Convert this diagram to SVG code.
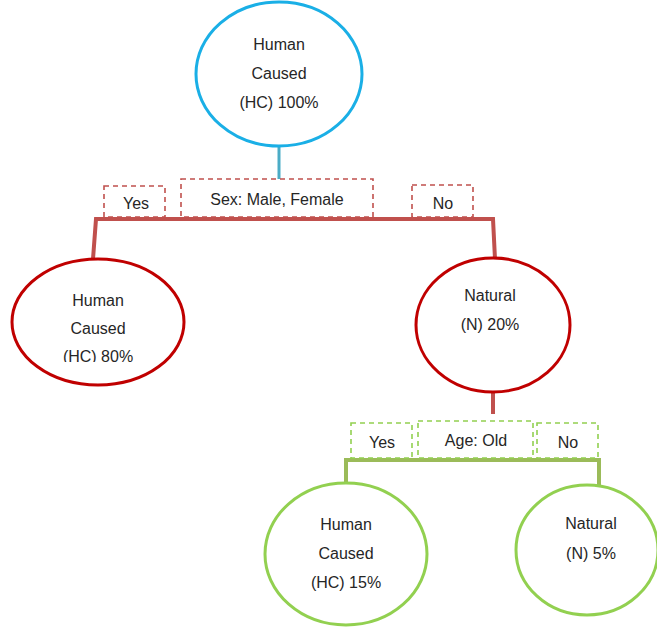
<svg xmlns="http://www.w3.org/2000/svg" width="657" height="632" viewBox="0 0 657 632">
<style>
text{font-family:"Liberation Sans","Noto Sans",sans-serif;font-size:16px;fill:#262626;text-anchor:middle}
.node{fill:#fff;stroke-width:3}
.blue{stroke:#1AAFE6}
.red{stroke:#C00000}
.green{stroke:#92D050}
.dred{fill:#fff;stroke:#C0504D;stroke-width:1.6;stroke-dasharray:5 4}
.dgreen{fill:#fff;stroke:#92D050;stroke-width:1.6;stroke-dasharray:5 4}
.lred{fill:none;stroke:#C0504D;stroke-width:4}
.lgreen{fill:none;stroke:#9BBB59;stroke-width:4}
</style>
<defs>
<clipPath id="clipL"><rect x="0" y="0" width="657" height="362"/></clipPath>
</defs>
<g id="connectors">
<line x1="279" y1="146" x2="279" y2="180" stroke="#4BACC6" stroke-width="3"/>
<path class="lred" d="M93 259 L96 219 L493 219 L495 259"/>
<line x1="493" y1="391" x2="493" y2="414" stroke="#C0504D" stroke-width="4"/>
<path class="lgreen" d="M346 486 L346 460 L599 460 L599 486"/>
</g>
<g id="label-sex">
<rect class="dred" x="181" y="179" width="192" height="38"/>
<text x="277" y="205">Sex: Male, Female</text>
</g>
<g id="label-yes1">
<rect class="dred" x="104" y="186" width="61" height="31"/>
<text x="136" y="209">Yes</text>
</g>
<g id="label-no1">
<rect class="dred" x="412" y="185" width="61" height="32"/>
<text x="443" y="209">No</text>
</g>
<g id="label-age">
<rect class="dgreen" x="418" y="421" width="115" height="37"/>
<text x="476" y="446">Age: Old</text>
</g>
<g id="label-yes2">
<rect class="dgreen" x="351" y="423" width="61" height="35"/>
<text x="382" y="448">Yes</text>
</g>
<g id="label-no2">
<rect class="dgreen" x="537" y="423" width="61" height="35"/>
<text x="568" y="448">No</text>
</g>
<g id="root">
<ellipse class="node blue" cx="279" cy="74" rx="83" ry="72"/>
<text x="279" y="50">Human</text>
<text x="279" y="79">Caused</text>
<text x="279" y="108">(HC) 100%</text>
</g>
<g id="hc80">
<ellipse class="node red" cx="98" cy="322" rx="86" ry="63"/>
<text x="98" y="306">Human</text>
<text x="98" y="334">Caused</text>
<text x="98" y="362" clip-path="url(#clipL)">(HC) 80%</text>
</g>
<g id="n20">
<ellipse class="node red" cx="493" cy="325" rx="77" ry="67"/>
<text x="490" y="301">Natural</text>
<text x="490" y="330">(N) 20%</text>
</g>
<g id="hc15">
<ellipse class="node green" cx="346" cy="554" rx="81" ry="71"/>
<text x="346" y="530">Human</text>
<text x="346" y="559">Caused</text>
<text x="346" y="588">(HC) 15%</text>
</g>
<g id="n5">
<ellipse class="node green" cx="587" cy="550" rx="71" ry="65"/>
<text x="591" y="529">Natural</text>
<text x="591" y="559">(N) 5%</text>
</g>
</svg>
